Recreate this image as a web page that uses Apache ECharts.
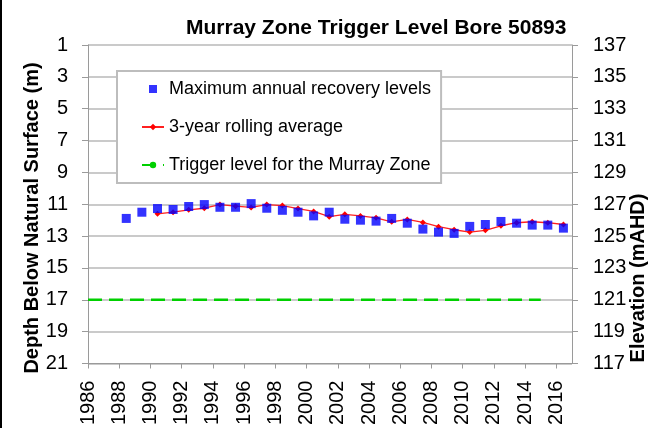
<!DOCTYPE html>
<html>
<head>
<meta charset="utf-8">
<script src="https://cdn.jsdelivr.net/npm/echarts@6/dist/echarts.min.js"></script>
<style>
html,body{margin:0;padding:0;background:#fff;}
#chart{width:651px;height:428px;}
</style>
</head>
<body>
<div id="chart"></div>
<script>
// ---- data ----
const titleText = 'Murray Zone Trigger Level Bore 50893';
const seriesNames = ['Maximum annual recovery levels', '3-year rolling average', 'Trigger level for the Murray Zone'];

const maxYears = [1988.45, 1989.45, 1990.45, 1991.45, 1992.45, 1993.45, 1994.45, 1995.45, 1996.45, 1997.45,
                  1998.45, 1999.45, 2000.45, 2001.45, 2002.45, 2003.45, 2004.45, 2005.45, 2006.45, 2007.45,
                  2008.45, 2009.45, 2010.45, 2011.45, 2012.45, 2013.45, 2014.45, 2015.45, 2016.45];
const maxDepths = [11.89, 11.5, 11.27, 11.33, 11.14, 11.02, 11.19, 11.19, 10.96, 11.25,
                   11.38, 11.5, 11.73, 11.5, 11.94, 12.0, 12.06, 11.89, 12.19, 12.56,
                   12.75, 12.83, 12.39, 12.27, 12.08, 12.19, 12.31, 12.31, 12.5];

const avgYears = [1990.45, 1991.45, 1992.45, 1993.45, 1994.45, 1995.45, 1996.45, 1997.45,
                  1998.45, 1999.45, 2000.45, 2001.45, 2002.45, 2003.45, 2004.45, 2005.45, 2006.45, 2007.45,
                  2008.45, 2009.45, 2010.45, 2011.45, 2012.45, 2013.45, 2014.45, 2015.45, 2016.45];
const avgDepths = [11.6, 11.5, 11.35, 11.25, 11.02, 11.12, 11.2, 11.02, 11.08, 11.27,
                   11.45, 11.78, 11.63, 11.73, 11.85, 12.1, 11.95, 12.14, 12.41, 12.6,
                   12.75, 12.64, 12.35, 12.16, 12.1, 12.16, 12.27];

const triggerYears = [1986, 2015];
const triggerDepths = [17, 17];

const depthAxis = {min: 1, max: 21, step: 2};
const elevAxis = {min: 117, max: 137, step: 2};
const yearAxis = {min: 1986, max: 2017, step: 2};

const leftName = 'Depth Below Natural Surface (m)';
const rightName = 'Elevation (mAHD)';

// ---- chart ----
const FONT = '"Liberation Sans", Arial, sans-serif';
const zip = (xs, ys) => xs.map((x, i) => [x, ys[i]]);

const chart = echarts.init(document.getElementById('chart'), null, {renderer: 'canvas'});
chart.setOption({
  animation: false,
  backgroundColor: '#fff',
  title: {
    text: titleText,
    left: 181, top: 13,
    textStyle: {fontFamily: FONT, fontWeight: 'bold', fontSize: 21, color: '#000'}
  },
  legend: {
    orient: 'vertical',
    left: 117, top: 71,
    padding: [8, 10, 8, 24],
    itemGap: 18,
    itemWidth: 22, itemHeight: 8,
    symbolKeepAspect: true,
    borderColor: '#bdbdbd', borderWidth: 2,
    backgroundColor: '#fff',
    textStyle: {fontFamily: FONT, fontSize: 18, color: '#000', lineHeight: 20},
    data: [
      {name: seriesNames[0], icon: 'path://M0,0h8v8h-8z'},
      {name: seriesNames[1]},
      {name: seriesNames[2]}
    ]
  },
  grid: {left: 88, right: 79, top: 45, bottom: 63, containLabel: false},
  xAxis: {
    type: 'value',
    min: yearAxis.min, max: yearAxis.max, interval: yearAxis.step,
    axisLine: {show: true, lineStyle: {color: '#9a9a9a', width: 1}},
    axisTick: {show: true, length: 5, lineStyle: {color: '#9a9a9a'}},
    splitLine: {show: false},
    axisLabel: {rotate: 90, margin: 17, fontFamily: FONT, fontSize: 20, color: '#000', showMaxLabel: false,
                formatter: v => String(v)}
  },
  yAxis: [
    {
      type: 'value', position: 'left', inverse: true,
      min: depthAxis.min, max: depthAxis.max, interval: depthAxis.step,
      axisLine: {show: true, lineStyle: {color: '#9a9a9a', width: 1}},
      axisTick: {show: true, length: 6, lineStyle: {color: '#9a9a9a'}},
      splitLine: {show: true, lineStyle: {color: '#b8b8b8', width: 1.5}},
      axisLabel: {margin: 20, fontFamily: FONT, fontSize: 20, color: '#000'}
    },
    {
      type: 'value', position: 'right',
      min: elevAxis.min, max: elevAxis.max, interval: elevAxis.step,
      axisLine: {show: true, lineStyle: {color: '#9a9a9a', width: 1}},
      axisTick: {show: true, length: 6, lineStyle: {color: '#9a9a9a'}},
      splitLine: {show: false},
      axisLabel: {margin: 21, fontFamily: FONT, fontSize: 20, color: '#000'}
    }
  ],
  series: [
    {
      name: seriesNames[2], type: 'line', yAxisIndex: 0,
      data: zip(triggerYears, triggerDepths),
      showSymbol: false, symbol: 'none',
      lineStyle: {color: '#00d000', width: 2.5, type: [14, 7]},
      itemStyle: {color: '#00d000'},
      z: 2
    },
    {
      name: seriesNames[1], type: 'line', yAxisIndex: 0,
      data: zip(avgYears, avgDepths),
      symbol: 'diamond', symbolSize: 6,
      lineStyle: {color: '#ff2020', width: 1.3},
      itemStyle: {color: '#ff0000'},
      z: 3
    },
    {
      name: seriesNames[0], type: 'scatter', yAxisIndex: 0,
      data: zip(maxYears, maxDepths),
      symbol: 'rect', symbolSize: 9,
      itemStyle: {color: '#0000ff'},
      z: 4
    }
  ],
  graphic: [
    {type: 'line', shape: {x1: 1, y1: 0, x2: 1, y2: 428}, style: {stroke: '#000', lineWidth: 2}},
    {type: 'text', x: 32, y: 218, rotation: Math.PI / 2,
     style: {text: leftName, font: 'bold 20px ' + FONT, fill: '#000', textAlign: 'center', textVerticalAlign: 'middle'}},
    {type: 'text', x: 638, y: 278, rotation: Math.PI / 2,
     style: {text: rightName, font: 'bold 20px ' + FONT, fill: '#000', textAlign: 'center', textVerticalAlign: 'middle'}}
  ]
});
</script>
</body>
</html>
